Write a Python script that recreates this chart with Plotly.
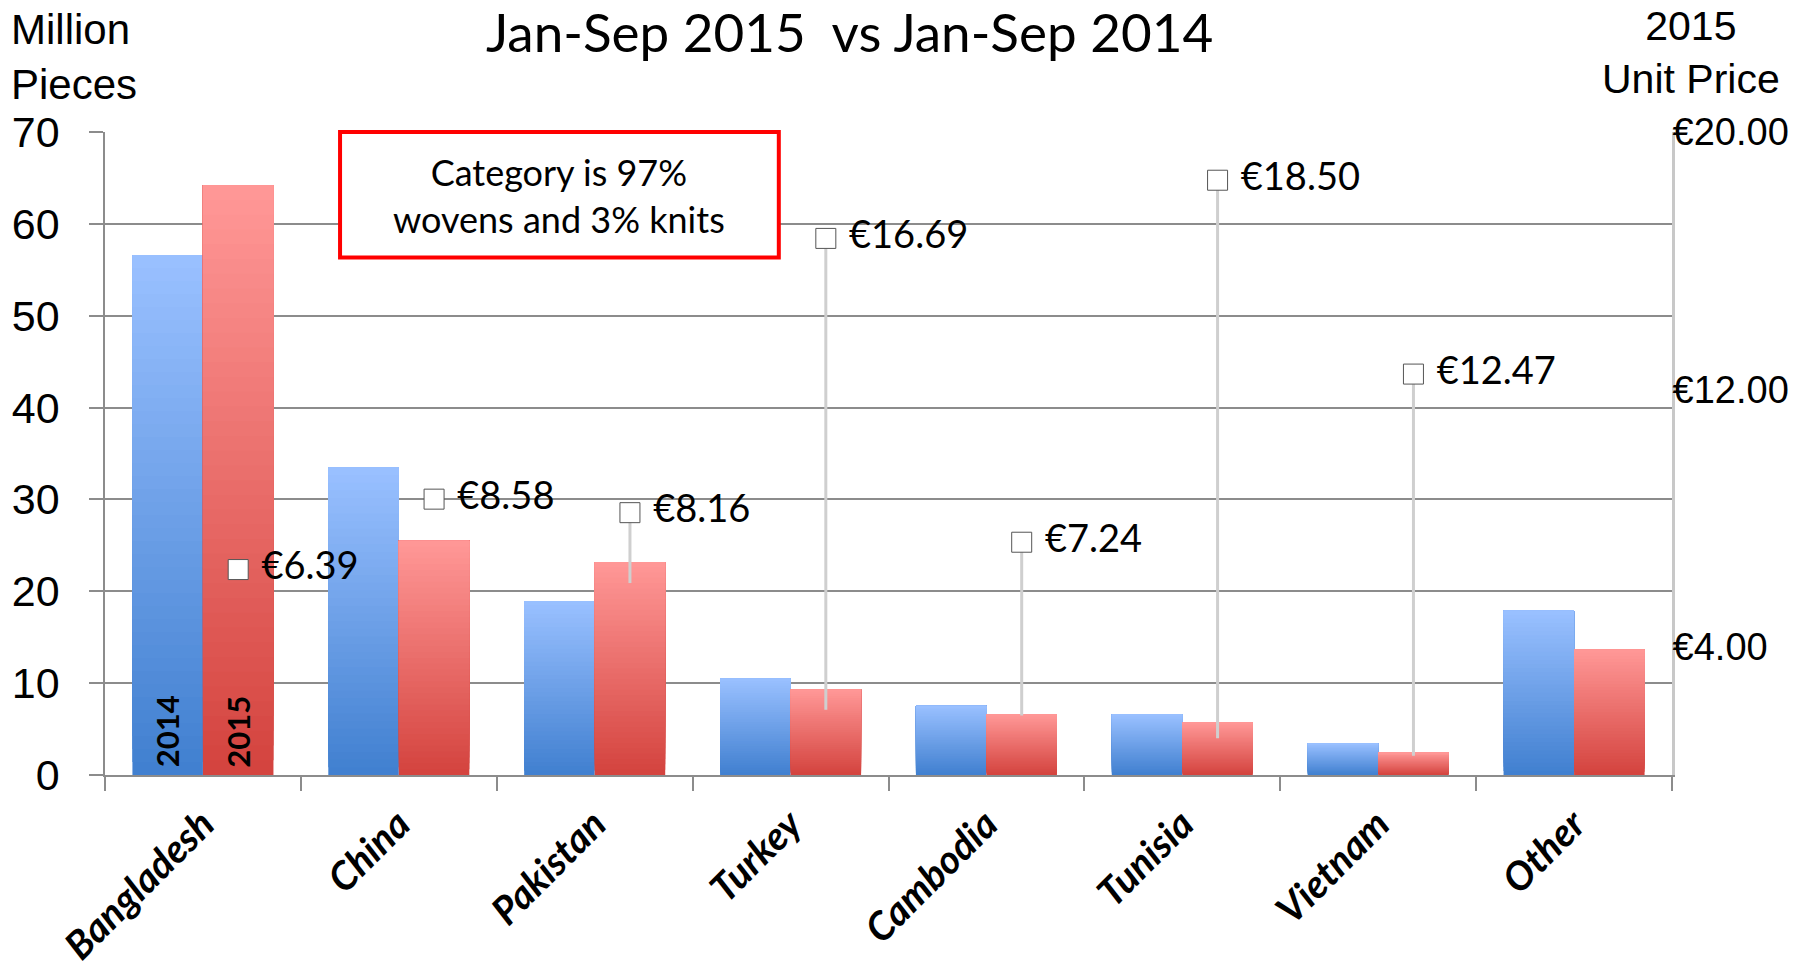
import plotly.graph_objects as go

categories = ["Bangladesh", "China", "Pakistan", "Turkey", "Cambodia", "Tunisia", "Vietnam", "Other"]
pieces_2014 = [56.6, 33.5, 18.95, 10.5, 7.55, 6.6, 3.45, 17.9]
pieces_2015 = [64.2, 25.5, 23.2, 9.3, 6.6, 5.7, 2.45, 13.65]
unit_price_2015 = [6.39, 8.58, 8.16, 16.69, 7.24, 18.50, 12.47, None]
leader_end = [None, None, 5.97, 2.03, 1.85, 1.14, 0.6, None]
right_ticks = [4, 12, 20]

BAR_W = 0.36
N_SEG = 40

blue_top, blue_bot = (153, 192, 255), (65, 128, 208)
red_top, red_bot = (255, 151, 150), (212, 68, 63)


def mix(c0, c1, t):
    return "rgb(%d,%d,%d)" % tuple(round(a + (b - a) * t) for a, b in zip(c0, c1))


fig = go.Figure()

for vals, top, bot, off in [(pieces_2014, blue_top, blue_bot, -BAR_W),
                            (pieces_2015, red_top, red_bot, 0.0)]:
    for k in range(N_SEG):
        t = k / (N_SEG - 1)
        fig.add_bar(
            x=categories,
            y=[v * (1 - k / N_SEG) for v in vals],
            base=[v * k / N_SEG for v in vals],
            width=BAR_W, offset=off,
            marker=dict(color=mix(bot, top, t), line=dict(width=0)),
            showlegend=False, hoverinfo="skip",
        )

idx = list(range(len(categories)))
px_x = [i + BAR_W / 2 for i in idx]
minus = [(p - e) if (p is not None and e is not None) else 0
         for p, e in zip(unit_price_2015, leader_end)]
labels = [" €%.2f" % p if p is not None else "" for p in unit_price_2015]

fig.add_trace(go.Scatter(
    x=px_x, y=unit_price_2015, xaxis="x2", yaxis="y2",
    mode="markers+text",
    marker=dict(symbol="square", size=20, color="white", line=dict(color="#555555", width=1)),
    text=labels, textposition="middle right",
    textfont=dict(family="Lato", size=38, color="black"),
    error_y=dict(type="data", symmetric=False, array=[0] * len(idx), arrayminus=minus,
                 color="#cfcfcf", thickness=3, width=0),
    showlegend=False, hoverinfo="skip", cliponaxis=False,
))

grid = "#8c8c8c"
fig.update_layout(
    width=1796, height=973,
    margin=dict(l=105, r=124, t=132, b=198, autoexpand=False),
    paper_bgcolor="white", plot_bgcolor="white",
    barmode="overlay",
    showlegend=False,
    xaxis=dict(type="category", categoryorder="array", categoryarray=categories,
               range=[-0.5, 7.5], showline=True, linecolor=grid, linewidth=1.5,
               ticks="outside", tickson="boundaries", ticklen=14, tickcolor=grid, tickwidth=1.5,
               tickangle=-45, ticklabelstandoff=9, automargin=False,
               tickfont=dict(family="Lato", size=39, color="black", weight="bold", style="italic"),
               showgrid=False, zeroline=False),
    xaxis2=dict(overlaying="x", range=[-0.5, 7.5], visible=False),
    yaxis=dict(range=[0, 70], dtick=10, showgrid=True, gridcolor=grid, gridwidth=1.5,
               showline=True, linecolor=grid, linewidth=1.5, ticks="outside", ticklen=14,
               tickcolor=grid, tickwidth=1.5, ticklabelstandoff=21, automargin=False,
               tickfont=dict(family="Liberation Sans", size=43, color="black"),
               zeroline=False),
    yaxis2=dict(overlaying="y", side="right", range=[0, 20], tickvals=right_ticks,
                ticktext=["€%.2f" % v for v in right_ticks], showgrid=False, zeroline=False,
                showline=True, linecolor="#c8c8c8", linewidth=3, ticks="",
                ticklabelstandoff=-10, automargin=False,
                tickfont=dict(family="Liberation Sans", size=38, color="black")),
)

# text inside Bangladesh bars
for txt, xx in [("2014", -BAR_W / 2), ("2015", BAR_W / 2)]:
    fig.add_annotation(x=xx, y=0.6, xref="x2", yref="y", text=txt, textangle=-90,
                       showarrow=False, yanchor="bottom", xanchor="center",
                       font=dict(family="Lato", size=31, color="black", weight="bold"))

# category box
fig.add_shape(type="rect", xref="paper", yref="paper", x0=0.150, x1=0.430, y0=0.805, y1=1.0,
              line=dict(color="#ff0000", width=4), fillcolor="white")
fig.add_annotation(xref="paper", yref="paper", x=0.290, y=0.902, showarrow=False,
                   xanchor="center", yanchor="middle",
                   text="Category is 97%<br>wovens and 3% knits",
                   font=dict(family="Lato", size=36, color="black"), align="center")

# titles
fig.add_annotation(xref="paper", yref="paper", x=0.4754, y=1.156, showarrow=False,
                   text="Jan-Sep 2015  vs Jan-Sep 2014", xanchor="center", yanchor="middle",
                   font=dict(family="Lato", size=53, color="black"))
fig.add_annotation(xref="paper", yref="paper", x=-0.061, y=1.116, showarrow=False,
                   text="Million<br>Pieces", xanchor="left", yanchor="middle", align="left",
                   font=dict(family="Liberation Sans", size=42, color="black"))
fig.add_annotation(xref="paper", yref="paper", x=1.012, y=1.124, showarrow=False,
                   text="2015<br>Unit Price", xanchor="center", yanchor="middle", align="center",
                   font=dict(family="Liberation Sans", size=41, color="black"))

fig.write_html("out.html")
